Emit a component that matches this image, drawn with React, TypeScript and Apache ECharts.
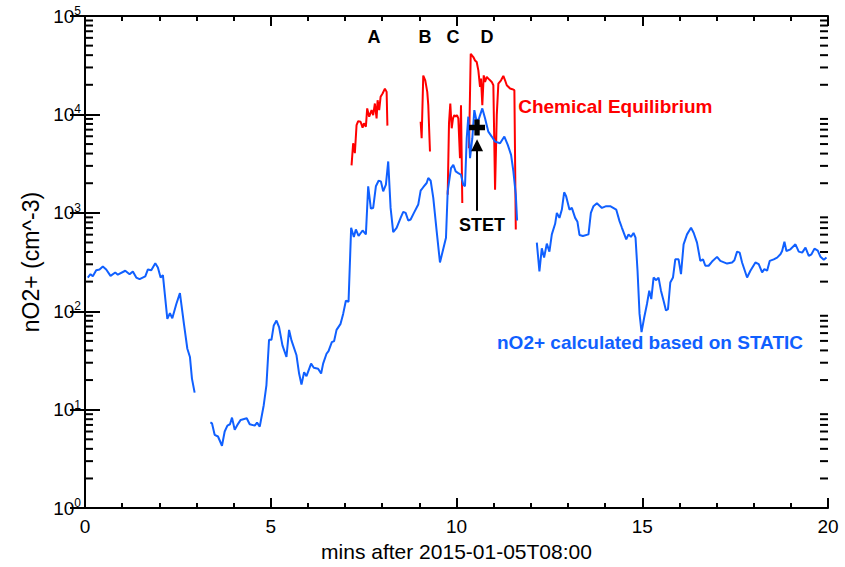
import React, { useEffect, useRef } from "react";
import * as echarts from "echarts";

// ---- Data ----
// Blue: nO2+ calculated based on STATIC (null = gap)
const blueMinutes: (number | null)[] = [
  0.075, 0.148, 0.21, 0.302, 0.391, 0.48, 0.571, 0.687, 0.814, 0.884, 1.084, 1.2, 1.288, 1.38, 1.469, 1.623, 1.693, 1.784, 1.892, 1.962, 2.035, 2.097, 2.216, 2.286, 2.35, 2.458, 2.555, 2.663, 2.755, 2.825, 2.879, 2.951,
  null,
  3.375, 3.418, 3.49, 3.58, 3.687, 3.76, 3.833, 3.903, 3.957, 4.03, 4.102, 4.191, 4.353, 4.434, 4.569, 4.631, 4.704, 4.811, 4.884, 4.954, 5.019, 5.081, 5.154, 5.224, 5.315, 5.423, 5.493, 5.558, 5.693, 5.763, 5.827, 5.898, 5.962, 6.086, 6.159, 6.275, 6.356, 6.41, 6.501, 6.555, 6.644, 6.706, 6.771, 6.879, 6.949, 7.022, 7.094,
  7.164, 7.237, 7.291, 7.364, 7.472, 7.561, 7.623, 7.695, 7.757, 7.83, 7.903, 7.965, 8.027, 8.1, 8.162, 8.226, 8.296, 8.388, 8.496, 8.566, 8.631, 8.701, 8.765, 8.854, 8.97, 9.035, 9.105, 9.197, 9.24, 9.305, 9.375, 9.466, 9.555, 9.717, 9.763, 9.852, 9.914, 9.978, 10.048, 10.121, 10.183, 10.229, 10.275, 10.318, 10.364, 10.426, 10.48, 10.544, 10.606, 10.695, 10.768, 10.857, 10.949, 11.038, 11.173, 11.288, 11.38, 11.469, 11.531, 11.596, 11.631,
  null,
  12.162, 12.232, 12.296, 12.358, 12.431, 12.501, 12.566, 12.655, 12.701, 12.771, 12.836, 12.898, 12.951, 13.04, 13.105, 13.194, 13.256, 13.31, 13.402, 13.553, 13.617, 13.687, 13.779, 13.914, 14.03, 14.137, 14.299, 14.388, 14.453, 14.569, 14.631, 14.695, 14.765, 14.819, 14.873, 14.927, 14.981, 15.054, 15.127, 15.189, 15.243, 15.305, 15.377, 15.439, 15.504, 15.574, 15.639, 15.693, 15.755, 15.827, 15.889, 15.978, 16.043, 16.113, 16.205, 16.313, 16.383, 16.474, 16.563, 16.636, 16.698, 16.787, 16.879, 17.013, 17.102, 17.283, 17.418, 17.48, 17.553, 17.623, 17.687, 17.822, 17.911, 18.046, 18.135, 18.226, 18.288, 18.361, 18.431, 18.539, 18.63, 18.72, 18.765, 18.827, 18.881, 18.989, 19.124, 19.213, 19.305, 19.394, 19.483, 19.555, 19.636, 19.725, 19.798, 19.887, 19.96,
];
const blueValues: (number | null)[] = [
  220, 238, 227, 261, 266, 285, 266, 229, 248, 235, 258, 238, 254, 220, 212, 226, 266, 261, 307, 278, 220, 233, 83.6, 95.5, 85, 118.6, 153, 74.5, 41.6, 34.3, 20.7, 14.9,
  null,
  7.44, 7.27, 5.55, 5.34, 4.3, 6.0, 6.89, 7.11, 8.3, 6.24, 7.0, 7.87, 8.17, 7.11, 6.89, 7.39, 6.73, 11.1, 17.8, 51.3, 51.3, 71.8, 80.5, 68.9, 45, 34.3, 64.7, 50.6, 35.7, 23.3, 18, 24, 21.9, 29.4, 26.7, 26.1, 23.3, 29.4, 37, 39.4, 48.6, 49.8, 64.7, 74.5, 94, 128, 125,
  705, 569, 678, 582, 662, 604, 1862, 1104, 1122, 1862, 2118, 2089, 1656, 1931, 3327, 1122, 638, 705, 889, 1023, 1000, 836, 856, 1000, 1213, 1679, 1820, 2010, 2259, 2118, 1419, 653, 313, 559, 1656, 2851, 3076, 2636, 2535, 2438, 1931, 1862, 5728, 9484, 3597, 5728, 11046, 8433, 9120, 11508, 9120, 6683, 5957, 5297, 5093, 5957, 4898, 3882, 2636, 1531, 836,
  null,
  498, 254, 436, 351, 486, 404, 604, 774, 1000, 889, 1079, 1618, 1476, 1079, 1122, 889, 811, 596, 582, 604, 1000, 1169, 1253, 1122, 1169, 1169, 1079, 824, 705, 537, 604, 569, 624, 559, 258, 94, 61.4, 86.9, 118.6, 162, 133, 220, 207, 220, 162, 128, 102, 105, 196, 220, 337, 337, 238, 479, 604, 705, 628, 498, 325, 337, 290, 290, 320, 357, 325, 305, 313, 330, 404, 394, 313, 220, 258, 313, 301, 248, 268, 258, 325, 337, 351, 379, 410, 509, 410, 426, 479, 404, 394, 443, 365, 379, 433, 413, 357, 333, 351,
];

// Red: Chemical Equilibrium (null = gap)
const redMinutes: (number | null)[] = [
  7.175, 7.218, 7.264, 7.31, 7.353, 7.418, 7.472, 7.507, 7.561, 7.596, 7.65, 7.714, 7.757, 7.803, 7.849, 7.876, 7.919, 7.957, 8.011, 8.073, 8.119, 8.14,
  null,
  9.035, 9.062, 9.105, 9.159, 9.213, 9.24, 9.286,
  null,
  9.763, 9.798, 9.833, 9.871, 9.906, 9.941, 9.978, 10.013, 10.049, 10.094, 10.121, 10.156,
  null,
  10.337, 10.383, 10.453, 10.499, 10.544, 10.588, 10.633, 10.66, 10.695, 10.733, 10.768, 10.814, 10.857, 10.903, 10.949, 10.992, 11.038, 11.084, 11.127, 11.199, 11.261, 11.307, 11.353, 11.442, 11.504, 11.558, 11.596,
];
const redValues: (number | null)[] = [
  3034, 5093, 4036, 7798, 8551, 8433, 7345, 8110, 7516, 11508, 9484, 11046, 9840, 12910, 9120, 13950, 11046, 15100, 16300, 18300, 16940, 7690,
  null,
  8433, 5728, 24770, 22200, 16940, 12420, 4200,
  null,
  1531, 8110, 12910, 7228, 9120, 9840, 9484, 9840, 9120, 3597, 12420, 1262,
  null,
  4540, 41300, 38280, 35320, 34040, 28050, 19050, 23110, 12420, 24950, 21380, 24030, 23110, 22230, 21380, 19770, 1718, 9840, 20560, 22230, 24600, 22230, 19770, 18320, 18030, 17620, 678,
];

// STET measurement marker and arrow
const stetMinute = 10.553;
const stetValue = 7360;
const arrowFrom = 1050;
const arrowTo = 4850;

// Minor log ticks (2..9 x decade)
const decades = [1, 10, 100, 1000, 10000];
const minorMultipliers = [2, 3, 4, 5, 6, 7, 8, 9];

// Text annotations: [minute, value, text]
const letterLabels: [number, number, string][] = [
  [7.776, 60700, "A"],
  [9.151, 60700, "B"],
  [9.906, 60700, "C"],
  [10.822, 60700, "D"],
];
const stetLabel: [number, number, string] = [10.687, 759, "STET"];
const redLabel: [number, number, string] = [11.66, 12000, "Chemical Equilibrium"];
const blueLabel: [number, number, string] = [11.09, 48, "nO2+ calculated based on STATIC"];

const FONT = "Liberation Sans, Arial, Helvetica, sans-serif";
const BLUE = "#1060ff";
const RED = "#ff0000";

function pairs(xs: (number | null)[], ys: (number | null)[]) {
  return xs.map((x, i) => {
    const y = ys[i];
    if (x === null || y === null) return [0, "-"];
    return [x, y];
  });
}

export default function App() {
  const ref = useRef<HTMLDivElement>(null);
  useEffect(() => {
    if (!ref.current) return;
    const chart = echarts.init(ref.current, undefined, { renderer: "svg" });
    const minorTicks: number[][] = [];
    decades.forEach((d) => minorMultipliers.forEach((m) => minorTicks.push([0, d * m])));

    const axisCommon = {
      axisLine: { show: true, lineStyle: { color: "#000", width: 2 } },
      splitLine: { show: false },
    };

    const textLabel = (color: string, size: number, position: string) => ({
      show: true,
      position,
      distance: 0,
      formatter: (p: any) => p.name,
      color,
      opacity: 1,
      fontSize: size,
      fontWeight: "bold",
      fontFamily: FONT,
    });

    const option: any = {
      animation: false,
      backgroundColor: "#fff",
      grid: { left: 85, right: 17, top: 16, bottom: 55, containLabel: false },
      xAxis: [
        {
          type: "value",
          min: 0,
          max: 20,
          interval: 5,
          position: "bottom",
          ...axisCommon,
          axisTick: { show: true, inside: true, length: 10, lineStyle: { color: "#000", width: 2 } },
          minorTick: { show: true, splitNumber: 5, length: 5, lineStyle: { color: "#000", width: 2 } },
          axisLabel: { color: "#000", fontSize: 19, fontFamily: FONT, margin: 9 },
          name: "mins after 2015-01-05T08:00",
          nameLocation: "middle",
          nameGap: 30,
          nameTextStyle: { color: "#000", fontSize: 21, fontFamily: FONT },
        },
        {
          type: "value",
          min: 0,
          max: 20,
          interval: 5,
          position: "top",
          ...axisCommon,
          axisTick: { show: true, inside: true, length: 10, lineStyle: { color: "#000", width: 2 } },
          minorTick: { show: true, splitNumber: 5, length: 5, lineStyle: { color: "#000", width: 2 } },
          axisLabel: { show: false },
        },
      ],
      yAxis: [
        {
          type: "log",
          logBase: 10,
          min: 1,
          max: 100000,
          position: "left",
          ...axisCommon,
          axisTick: { show: true, inside: true, length: 15, lineStyle: { color: "#000", width: 2 } },
          axisLabel: {
            color: "#000",
            margin: 4,
            formatter: (v: number) => `{b|10}{s|${Math.round(Math.log10(v))}}`,
            rich: {
              b: { fontSize: 19, fontFamily: FONT, color: "#000" },
              s: { fontSize: 12, fontFamily: FONT, color: "#000", verticalAlign: "top", padding: [0, 0, 10, 0] },
            },
          },
          name: "nO2+ (cm^-3)",
          nameLocation: "middle",
          nameGap: 42,
          nameTextStyle: { color: "#000", fontSize: 23, fontFamily: FONT },
        },
        {
          type: "log",
          logBase: 10,
          min: 1,
          max: 100000,
          position: "right",
          ...axisCommon,
          axisTick: { show: true, inside: true, length: 15, lineStyle: { color: "#000", width: 2 } },
          axisLabel: { show: false },
        },
      ],
      series: [
        {
          type: "custom",
          name: "minorTicks",
          xAxisIndex: 0,
          yAxisIndex: 0,
          silent: true,
          clip: false,
          data: minorTicks,
          renderItem: (params: any, api: any) => {
            const v = api.value(1);
            const l = api.coord([0, v]);
            const r = api.coord([20, v]);
            const st = { stroke: "#000", lineWidth: 2 };
            return {
              type: "group",
              children: [
                { type: "line", shape: { x1: l[0], y1: l[1], x2: l[0] + 8, y2: l[1] }, style: st },
                { type: "line", shape: { x1: r[0] - 8, y1: r[1], x2: r[0], y2: r[1] }, style: st },
              ],
            };
          },
        },
        {
          type: "line",
          name: "Chemical Equilibrium",
          data: pairs(redMinutes, redValues),
          showSymbol: false,
          connectNulls: false,
          lineStyle: { color: RED, width: 2 },
          itemStyle: { color: RED },
          z: 3,
        },
        {
          type: "line",
          name: "STATIC",
          data: pairs(blueMinutes, blueValues),
          showSymbol: false,
          connectNulls: false,
          lineStyle: { color: BLUE, width: 2 },
          itemStyle: { color: BLUE },
          z: 4,
        },
        {
          type: "lines",
          coordinateSystem: "cartesian2d",
          data: [{ coords: [[stetMinute, arrowFrom], [stetMinute, arrowTo]] }],
          symbol: ["none", "triangle"],
          symbolSize: [0, 12],
          lineStyle: { color: "#000", width: 2, opacity: 1 },
          z: 5,
        },
        {
          type: "scatter",
          data: [[stetMinute, stetValue]],
          symbol: "path://M4,0h4v4h4v4h-4v4h-4v-4h-4v-4h4z",
          symbolSize: 16,
          itemStyle: { color: "#000", opacity: 1 },
          z: 6,
        },
        {
          type: "scatter",
          symbolSize: 0,
          itemStyle: { opacity: 1 },
          data: [...letterLabels, stetLabel].map((d) => ({ value: [d[0], d[1]], name: d[2] })),
          label: textLabel("#000", 18, "inside"),
          z: 7,
        },
        {
          type: "scatter",
          symbolSize: 0,
          itemStyle: { opacity: 1 },
          data: [{ value: [redLabel[0], redLabel[1]], name: redLabel[2] }],
          label: textLabel(RED, 19, "right"),
          z: 7,
        },
        {
          type: "scatter",
          symbolSize: 0,
          itemStyle: { opacity: 1 },
          data: [{ value: [blueLabel[0], blueLabel[1]], name: blueLabel[2] }],
          label: textLabel(BLUE, 19, "right"),
          z: 7,
        },
      ],
    };
    chart.setOption(option);
    return () => chart.dispose();
  }, []);

  return (
    <div
      ref={ref}
      style={{ position: "fixed", left: 0, top: 0, width: 845, height: 567, background: "#fff" }}
    />
  );
}
